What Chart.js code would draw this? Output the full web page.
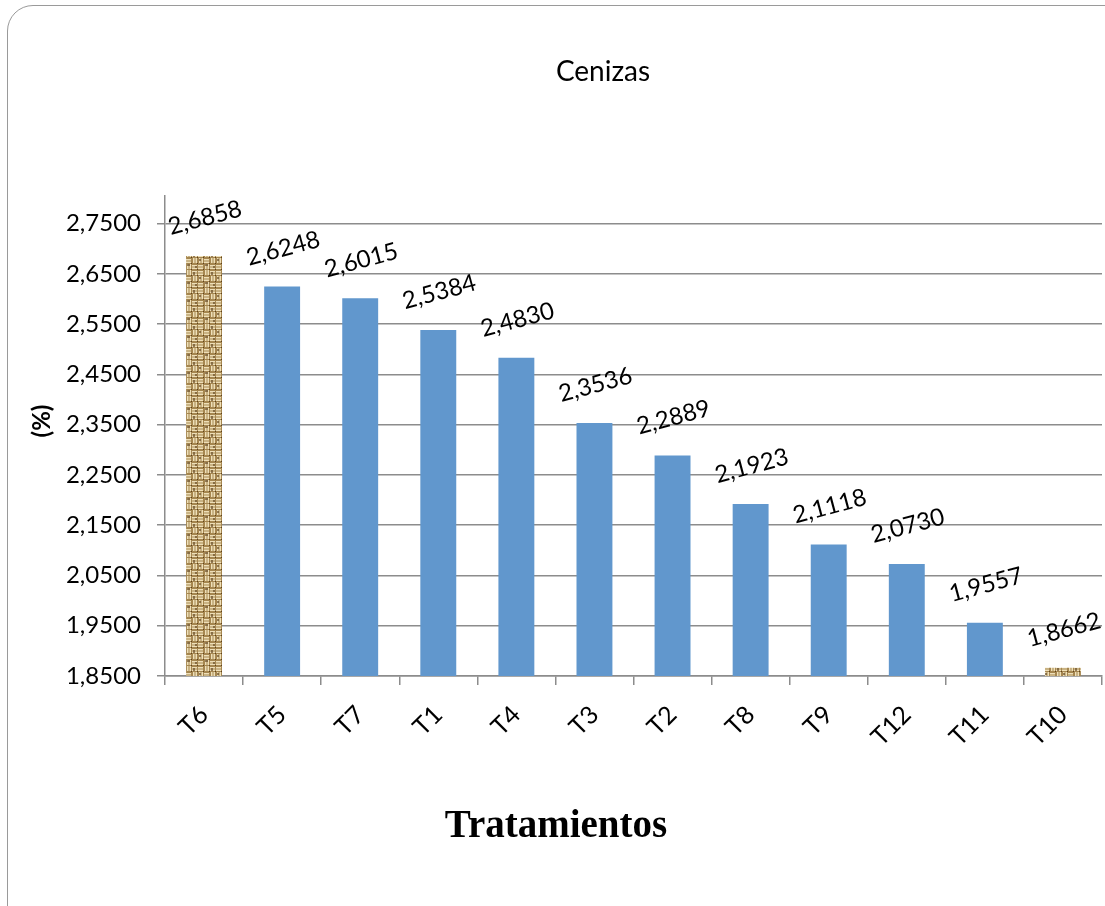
<!DOCTYPE html>
<html>
<head>
<meta charset="utf-8">
<script src="https://cdn.jsdelivr.net/npm/chart.js@4.4.1/dist/chart.umd.min.js"></script>
<style>
  body { margin: 0; background: #fff; overflow: hidden; }
  #frame {
    position: absolute; left: 7px; top: 5px; width: 1130px; height: 940px;
    border: 1.5px solid #9a9a9a; border-radius: 26px; box-sizing: border-box;
  }
  #wrap { position: absolute; left: 0; top: 0; width: 1105px; height: 906px; }
</style>
</head>
<body>
<div id="frame"></div>
<div id="wrap"><canvas id="barChart" width="1105" height="906"></canvas></div>
<script>
// Cenizas por tratamiento (%)
var tratamientos = ['T6', 'T5', 'T7', 'T1', 'T4', 'T3', 'T2', 'T8', 'T9', 'T12', 'T11', 'T10'];
var cenizas = [2.6858, 2.6248, 2.6015, 2.5384, 2.4830, 2.3536, 2.2889, 2.1923, 2.1118, 2.0730, 1.9557, 1.8662];
var con_textura = ['T6', 'T10'];
var y_ticks = [1.85, 1.95, 2.05, 2.15, 2.25, 2.35, 2.45, 2.55, 2.65, 2.75];

function fmt(v) {
    return v.toFixed(4).replace('.', ',');
}

// burlap style fill for the highlighted bars
function makeBurlap() {
    var c = document.createElement('canvas');
    c.width = 18; c.height = 18;
    var g = c.getContext('2d');
    g.fillStyle = '#a5864f';
    g.fillRect(0, 0, 18, 18);
    for (var i = 0; i < 3; i++) {
        for (var j = 0; j < 3; j++) {
            var x = i * 6, y = j * 6;
            g.fillStyle = '#eedfb9';
            if ((i + j) % 2 == 0) {
                g.fillRect(x, y + 1, 5, 1.5);
                g.fillRect(x, y + 3.5, 5, 1.5);
            } else {
                g.fillRect(x + 1, y, 1.5, 5);
                g.fillRect(x + 3.5, y, 1.5, 5);
            }
            g.fillStyle = '#5c4220';
            g.fillRect(x + 5, y + 5, 1, 1);
        }
    }
    g.fillStyle = 'rgba(90,60,25,0.6)';
    g.fillRect(7, 12, 3, 2);
    g.fillRect(13, 2, 2, 3);
    g.fillRect(1, 7, 2, 2);
    g.fillRect(15, 14, 2, 2);
    return g.createPattern(c, 'repeat');
}

var burlap = makeBurlap();
var colores = tratamientos.map(function (t) {
    return con_textura.indexOf(t) >= 0 ? burlap : '#6197cd';
});

// value labels, chart title and axis titles
var extras = {
    id: 'extras',
    afterDatasetsDraw: function (chart) {
        var ctx = chart.ctx;
        var meta = chart.getDatasetMeta(0);
        ctx.save();
        ctx.fillStyle = '#000';
        ctx.textAlign = 'center';
        ctx.textBaseline = 'middle';
        ctx.font = '24px Lato';
        meta.data.forEach(function (bar, i) {
            ctx.save();
            ctx.translate(bar.x + 1, bar.y - 38);
            ctx.rotate(-15 * Math.PI / 180);
            ctx.fillText(fmt(cenizas[i]), 0, 0);
            ctx.restore();
        });

        ctx.textBaseline = 'alphabetic';
        ctx.font = '28px Lato';
        ctx.fillText('Cenizas', 603, 81);

        ctx.font = 'bold 39px "Liberation Serif"';
        ctx.fillText('Tratamientos', 556, 837);

        ctx.save();
        ctx.translate(50, 421);
        ctx.rotate(-Math.PI / 2);
        ctx.font = 'bold 24px Lato';
        ctx.fillText('(%)', 0, 0);
        ctx.restore();
        ctx.restore();
    }
};

var ctx = document.getElementById('barChart').getContext('2d');
var barChart = new Chart(ctx, {
    type: 'bar',
    data: {
        labels: tratamientos,
        datasets: [{
            data: cenizas,
            backgroundColor: colores,
            borderWidth: 0,
            barPercentage: 0.46,
            categoryPercentage: 1
        }]
    },
    options: {
        responsive: false,
        animation: false,
        layout: { padding: { top: 196, right: 3, left: 0, bottom: 0 } },
        plugins: {
            legend: { display: false },
            tooltip: { enabled: false }
        },
        scales: {
            x: {
                afterFit: function (scale) { scale.height = 230; },
                grid: {
                    offset: true,
                    drawOnChartArea: false,
                    color: '#8c8c8c',
                    lineWidth: 1.5,
                    tickLength: 9
                },
                border: { color: '#8c8c8c', width: 1.5 },
                ticks: {
                    autoSkip: false,
                    minRotation: 45,
                    maxRotation: 45,
                    padding: 15,
                    color: '#000',
                    font: { family: 'Lato', size: 25 }
                }
            },
            y: {
                min: 1.85,
                max: 2.805,
                afterFit: function (scale) { scale.width = 165; },
                afterBuildTicks: function (scale) {
                    scale.ticks = y_ticks.map(function (v) { return { value: v }; });
                },
                grid: {
                    color: '#8c8c8c',
                    lineWidth: 1.5,
                    tickLength: 8
                },
                border: { color: '#8c8c8c', width: 1.5 },
                ticks: {
                    padding: 16,
                    color: '#000',
                    font: { family: 'Lato', size: 24 },
                    callback: function (v) { return fmt(v); }
                }
            }
        }
    },
    plugins: [extras]
});
</script>
</body>
</html>
